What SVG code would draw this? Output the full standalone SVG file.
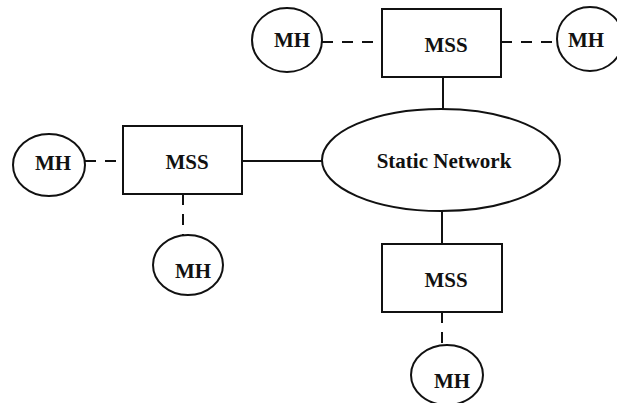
<svg xmlns="http://www.w3.org/2000/svg" width="617" height="403" viewBox="0 0 617 403">
<style>
.n{fill:#fff;stroke:#111;stroke-width:2}
.t{font-family:"Liberation Serif","Times New Roman",serif;font-weight:bold;font-size:21px;fill:#111;text-anchor:middle}
.s{stroke:#111;stroke-width:2;fill:none}
.d{stroke:#111;stroke-width:2;fill:none;stroke-dasharray:11 9}
</style>
<rect width="617" height="403" fill="#fff"/>
<g id="connectors">
<line class="s" x1="443" y1="77" x2="443" y2="109"/>
<line class="s" x1="242" y1="161" x2="322" y2="161"/>
<line class="s" x1="442" y1="210" x2="442" y2="244"/>
<line class="d" x1="322" y1="42" x2="382" y2="42"/>
<line class="d" x1="501" y1="42" x2="557" y2="42"/>
<line class="d" x1="85" y1="161" x2="123" y2="161"/>
<line class="d" x1="183" y1="194" x2="183" y2="235"/>
<line class="d" x1="442" y1="312" x2="442" y2="345"/>
</g>
<g id="net"><ellipse class="n" cx="441" cy="160" rx="119" ry="51"/><text class="t" x="444" y="168">Static Network</text></g>
<g id="mss-top"><rect class="n" x="382" y="9" width="119" height="68"/><text class="t" x="446" y="52">MSS</text></g>
<g id="mss-left"><rect class="n" x="123" y="126" width="119" height="68"/><text class="t" x="187" y="169">MSS</text></g>
<g id="mss-bottom"><rect class="n" x="382" y="244" width="120" height="68"/><text class="t" x="446" y="287">MSS</text></g>
<g id="mh-top-left"><ellipse class="n" cx="287" cy="40" rx="35" ry="32"/><text class="t" x="292" y="47">MH</text></g>
<g id="mh-top-right"><ellipse class="n" cx="590" cy="39" rx="33" ry="32"/><text class="t" x="586" y="47">MH</text></g>
<g id="mh-left"><ellipse class="n" cx="49" cy="165" rx="36" ry="31"/><text class="t" x="53" y="170">MH</text></g>
<g id="mh-left-bottom"><ellipse class="n" cx="188" cy="265" rx="35" ry="30"/><text class="t" x="193" y="278">MH</text></g>
<g id="mh-bottom"><ellipse class="n" cx="447" cy="375" rx="36" ry="30"/><text class="t" x="452" y="388">MH</text></g>
</svg>
